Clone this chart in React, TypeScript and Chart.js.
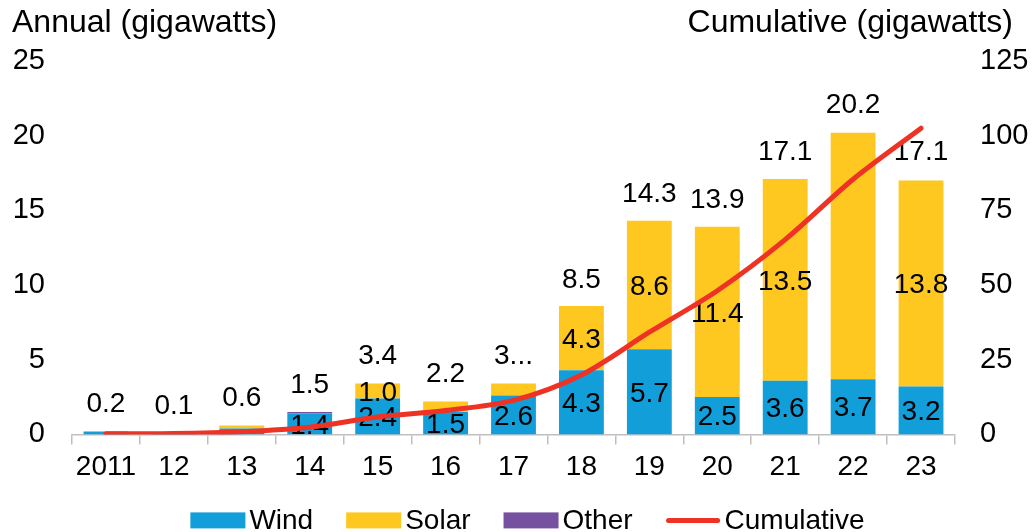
import React, { useEffect, useRef } from "react";
import { Chart, registerables } from "chart.js";

Chart.register(...registerables);

const years = ["2011", "12", "13", "14", "15", "16", "17", "18", "19", "20", "21", "22", "23"];
const wind = [0.2, 0.1, 0.4, 1.4, 2.4, 1.5, 2.6, 4.3, 5.7, 2.5, 3.6, 3.7, 3.2];
const solar = [0, 0, 0.2, 0, 1.0, 0.7, 0.8, 4.3, 8.6, 11.4, 13.5, 16.5, 13.8];
const other = [0, 0, 0, 0.1, 0, 0, 0, 0, 0, 0, 0, 0, 0];
const cumulative = [0.2, 0.3, 0.9, 2.4, 5.8, 8.0, 11.4, 19.9, 34.2, 48.1, 65.2, 85.4, 102.5];
const totals = [0.2, 0.1, 0.6, 1.5, 3.4, 2.2, 3.4, 8.5, 14.3, 13.9, 17.1, 20.2, 17.1];
const totalLabels = ["0.2", "0.1", "0.6", "1.5", "3.4", "2.2", "3...", "8.5", "14.3", "13.9", "17.1", "20.2", "17.1"];
const windLabels = ["", "", "", "1.4", "2.4", "1.5", "2.6", "4.3", "5.7", "2.5", "3.6", "3.7", "3.2"];
const solarLabels = ["", "", "", "", "1.0", "", "", "4.3", "8.6", "11.4", "13.5", "", "13.8"];
const leftTitle = "Annual (gigawatts)";
const rightTitle = "Cumulative (gigawatts)";

const FONT = "'Liberation Sans', Arial, sans-serif";
const WIND_C = "#119ed9";
const SOLAR_C = "#fec820";
const OTHER_C = "#7551a0";
const LINE_C = "#ee3224";

const overlay = {
  id: "overlay",
  beforeDatasetDraw(chart: any, args: any) {
    if (args.meta.type !== "line") return;
    const ctx = chart.ctx;
    ctx.save();
    ctx.fillStyle = "#000";
    ctx.font = `28px ${FONT}`;
    ctx.textAlign = "center";
    ctx.textBaseline = "middle";
    const segs: [number, string[]][] = [
      [0, windLabels],
      [1, solarLabels],
    ];
    segs.forEach(([di, labels]) => {
      const meta = chart.getDatasetMeta(di);
      meta.data.forEach((el: any, i: number) => {
        const t = labels[i];
        if (!t) return;
        ctx.fillText(t, el.x, (el.y + el.base) / 2 + 2);
      });
    });
    const ys = chart.scales.y;
    const m0 = chart.getDatasetMeta(0);
    m0.data.forEach((el: any, i: number) => {
      ctx.fillText(totalLabels[i], el.x, ys.getPixelForValue(totals[i]) - 27);
    });
    ctx.restore();
  },
  afterDraw(chart: any) {
    const ctx = chart.ctx;
    const area = chart.chartArea;
    ctx.save();
    ctx.fillStyle = "#000";
    ctx.textBaseline = "middle";
    ctx.font = `32px ${FONT}`;
    ctx.textAlign = "left";
    ctx.fillText(leftTitle, 12, 23);
    ctx.textAlign = "right";
    ctx.fillText(rightTitle, 1013, 23);

    // legend
    ctx.font = `28px ${FONT}`;
    ctx.textAlign = "left";
    const items = chart.data.datasets.map((d: any) => ({
      label: d.label,
      color: d.type === "line" ? d.borderColor : d.backgroundColor,
      line: d.type === "line",
    }));
    const boxW = 55;
    const gapIn = 4;
    const gapOut = 33;
    let total = 0;
    items.forEach((it: any, i: number) => {
      total += boxW + gapIn + ctx.measureText(it.label).width + (i < items.length - 1 ? gapOut : 0);
    });
    let x = (area.left + area.right) / 2 + 14 - total / 2;
    const y = area.bottom + 86;
    items.forEach((it: any) => {
      if (it.line) {
        ctx.strokeStyle = it.color;
        ctx.lineWidth = 5;
        ctx.lineCap = "round";
        ctx.beginPath();
        ctx.moveTo(x + 3, y);
        ctx.lineTo(x + boxW - 3, y);
        ctx.stroke();
      } else {
        ctx.fillStyle = it.color;
        ctx.fillRect(x, y - 8, boxW, 16);
      }
      x += boxW + gapIn;
      ctx.fillStyle = "#000";
      ctx.fillText(it.label, x, y + 1);
      x += ctx.measureText(it.label).width + gapOut;
    });
    ctx.restore();
  },
};

export default function App() {
  const ref = useRef<HTMLCanvasElement | null>(null);
  useEffect(() => {
    if (!ref.current) return;
    const chart = new Chart(ref.current, {
      type: "bar",
      data: {
        labels: years,
        datasets: [
          { type: "bar", label: "Wind", data: wind, backgroundColor: WIND_C, stack: "s", yAxisID: "y", order: 1 },
          { type: "bar", label: "Solar", data: solar, backgroundColor: SOLAR_C, stack: "s", yAxisID: "y", order: 1 },
          { type: "bar", label: "Other", data: other, backgroundColor: OTHER_C, stack: "s", yAxisID: "y", order: 1 },
          {
            type: "line",
            label: "Cumulative",
            data: cumulative,
            borderColor: LINE_C,
            backgroundColor: LINE_C,
            borderWidth: 5,
            pointRadius: 0,
            tension: 0.3,
            borderCapStyle: "round",
            yAxisID: "y1",
            order: 0,
          },
        ] as any,
      },
      options: {
        animation: false,
        responsive: true,
        maintainAspectRatio: false,
        datasets: { bar: { categoryPercentage: 1, barPercentage: 0.66 } },
        layout: { padding: { top: 61, bottom: 55, left: 0, right: 0 } },
        plugins: { legend: { display: false }, tooltip: { enabled: false }, title: { display: false } },
        scales: {
          x: {
            stacked: true,
            grid: { display: true, drawOnChartArea: false, drawTicks: true, tickLength: 10, color: "#bfbfbf", lineWidth: 1.5 },
            border: { display: true, color: "#bfbfbf", width: 1.5 },
            ticks: { color: "#000", font: { family: FONT, size: 28 }, padding: 6, maxRotation: 0, autoSkip: false },
          },
          y: {
            position: "left",
            stacked: true,
            min: 0,
            max: 25,
            grid: { display: false },
            border: { display: false },
            ticks: { stepSize: 5, color: "#000", font: { family: FONT, size: 29 }, padding: 19 },
            afterFit: (s: any) => {
              s.width = 72;
            },
          },
          y1: {
            position: "right",
            min: 0,
            max: 125,
            grid: { display: false },
            border: { display: false },
            ticks: { stepSize: 25, color: "#000", font: { family: FONT, size: 29 }, padding: 17 },
            afterFit: (s: any) => {
              s.width = 79;
            },
          },
        },
      } as any,
      plugins: [overlay],
    });
    return () => chart.destroy();
  }, []);
  return (
    <div style={{ position: "fixed", left: 0, top: 0, width: 1034, height: 532, overflow: "hidden", background: "#fff" }}>
      <div style={{ position: "relative", width: 1034, height: 545 }}>
        <canvas ref={ref} />
      </div>
    </div>
  );
}
